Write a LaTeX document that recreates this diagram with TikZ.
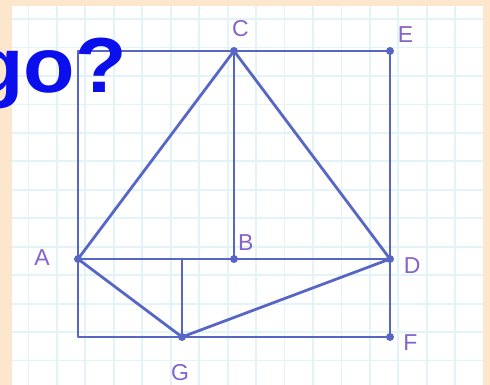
\documentclass[tikz,border=0pt]{standalone}
\usepackage{fontspec}
\setmainfont{Liberation Sans}
\definecolor{slidebg}{HTML}{FCE6CC}
\definecolor{gridcyan}{HTML}{E2F4F8}
\definecolor{penblue}{HTML}{5766C4}
\definecolor{penpurple}{HTML}{8463CC}
\definecolor{titleblue}{HTML}{0A0FEC}
\tikzset{
  pen/.style={color=penblue,line width=2.8pt,line cap=round,line join=round},
  letter/.style={text=penpurple,font=\fontsize{23}{23}\selectfont,inner sep=0pt},
  dot/.style={circle,fill=penblue,inner sep=0pt,minimum size=8pt}
}
\begin{document}
\begin{tikzpicture}[x=26pt,y=26pt]
   \useasboundingbox (0,0.1538) rectangle (18.846,14.9615);
   % slide and squared paper
   \fill[slidebg] (0,0.1538) rectangle (18.846,14.9615);
   \fill[white] (0.4615,0.1538) rectangle (18.577,14.73);
   \begin{scope}
     \clip (0.4615,0.1538) rectangle (18.577,14.73);
     \draw[color=gridcyan,line width=1.8pt] (0,0) grid (19,15);
   \end{scope}
   % points
   \coordinate (P) at (3,13);
   \coordinate (Q) at (3,2);
   \coordinate (H) at (7,5);
   \node[dot] (A) at (3,5) {};
   \node[dot] (B) at (9,5) {};
   \node[dot] (C) at (9,13) {};
   \node[dot] (D) at (15,5) {};
   \node[dot] (E) at (15,13) {};
   \node[dot] (F) at (15,2) {};
   \node[dot] (G) at (7,2) {};
   % square frame
   \draw[pen] (A.center) -- (P) -- (C.center) -- (E.center) -- (D.center) -- (F.center) -- (G.center) -- (Q) -- (A.center);
   % inside
   \draw[pen] (A.center) -- (B.center) -- (D.center);
   \draw[pen] (A.center) -- (C.center) -- (D.center);
   \draw[pen] (C.center) -- (B.center);
   \draw[pen] (A.center) -- (G.center) -- (D.center);
   \draw[pen] (G.center) -- (H);
   % labels
   \node[letter] (lblA) at (1.62,5.04) {A};
   \node[letter] (lblB) at (9.45,5.62) {B};
   \node[letter] (lblC) at (9.25,13.88) {C};
   \node[letter] (lblD) at (15.85,4.73) {D};
   \node[letter] (lblE) at (15.6,13.62) {E};
   \node[letter] (lblF) at (15.78,1.77) {F};
   \node[letter] (lblG) at (6.93,0.65) {G};
   % title, cut at the edge
   \begin{scope}
     \clip (0,0.1538) rectangle (18.846,14.9615);
     \node[text=titleblue,font=\fontsize{78}{78}\selectfont\bfseries,inner sep=0pt,xscale=1.08,anchor=base east] (title) at (4.88,11.42) {go?};
   \end{scope}
\end{tikzpicture}
\end{document}
